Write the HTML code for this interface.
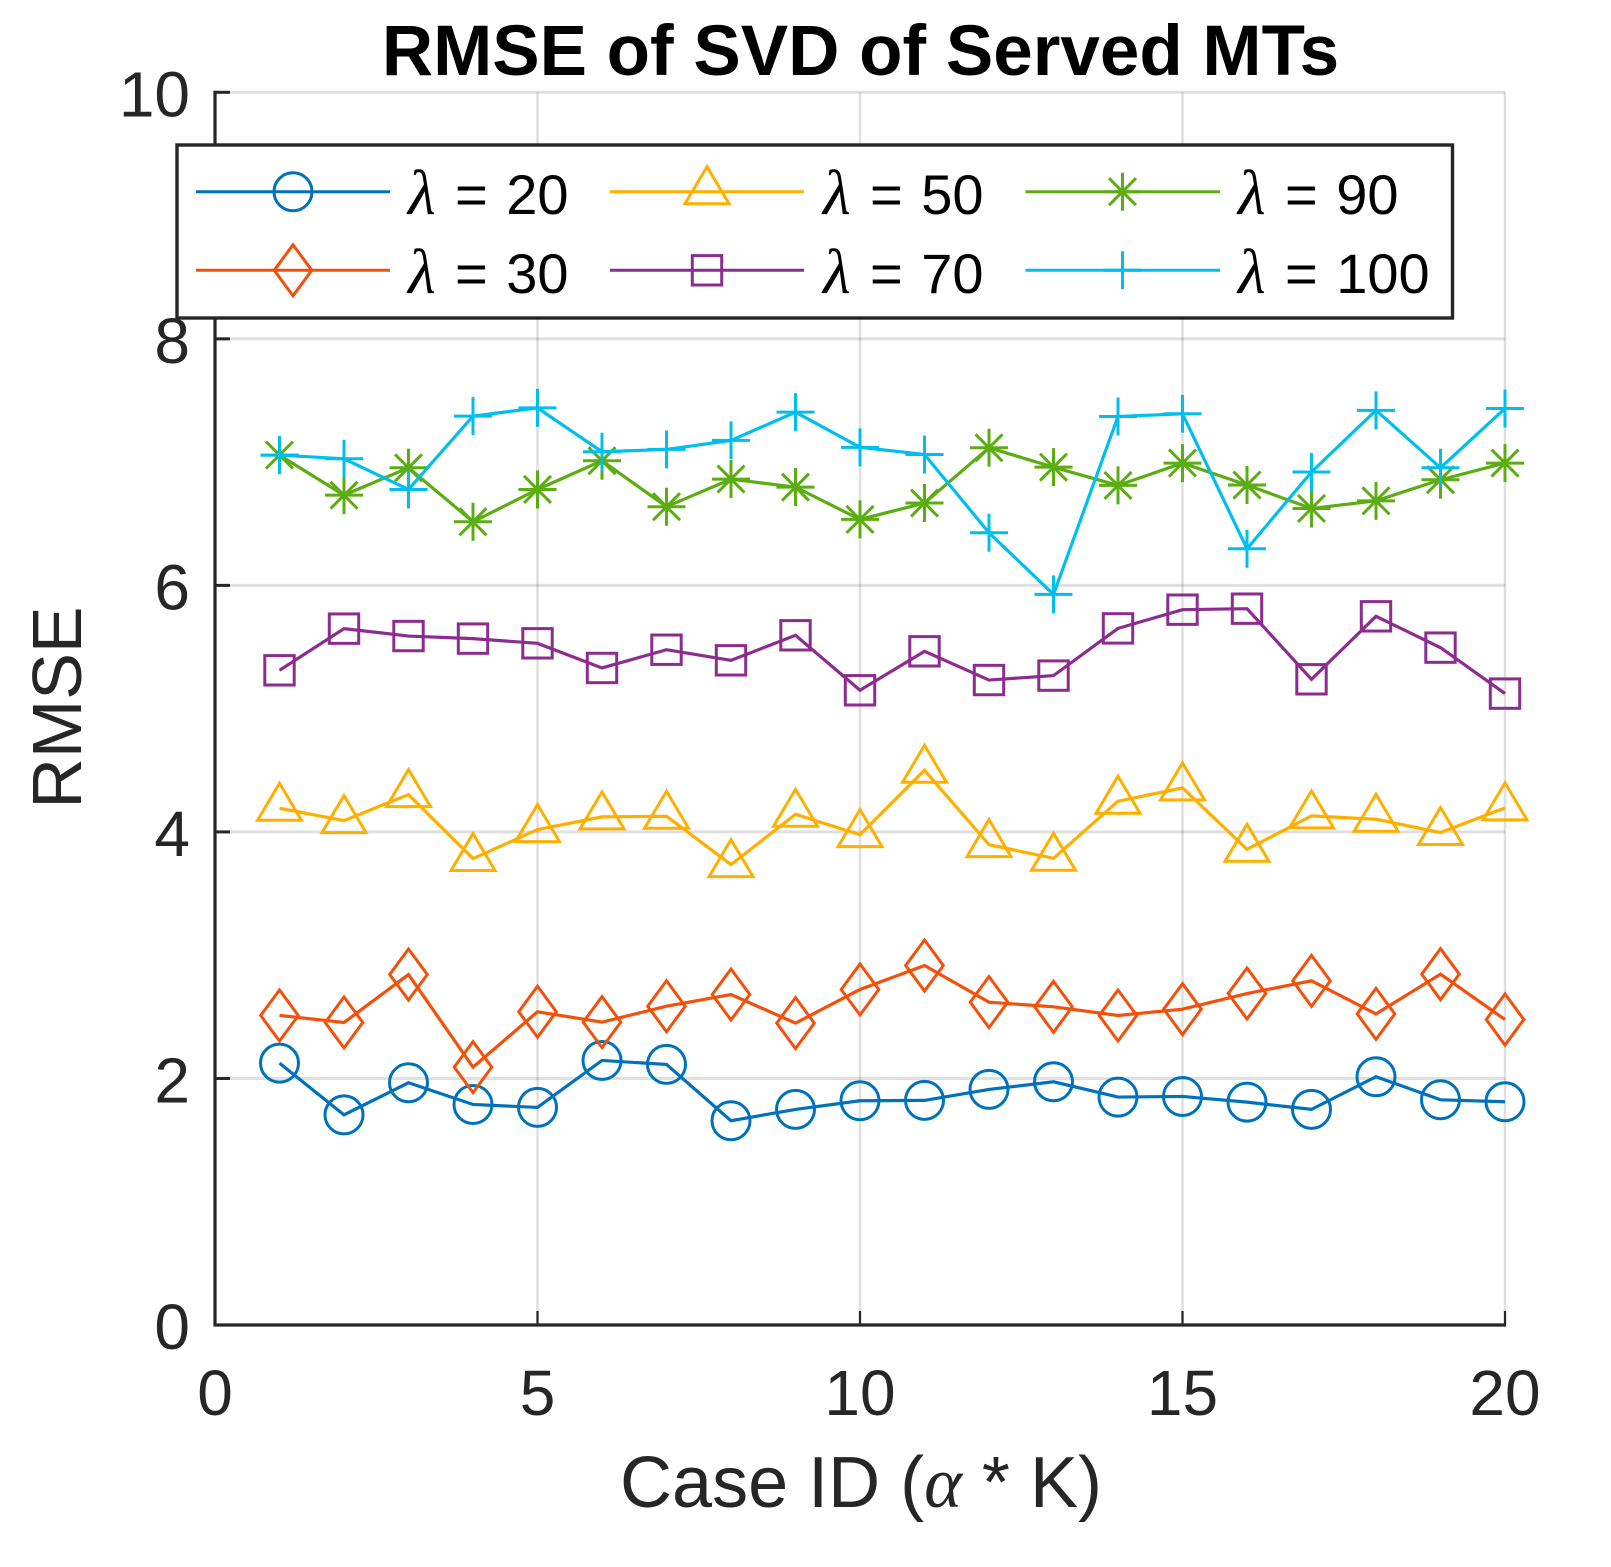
<!DOCTYPE html>
<html lang="en">
<head>
<meta charset="utf-8">
<title>RMSE of SVD of Served MTs</title>
<style>
html,body{margin:0;padding:0;background:#fff;}
svg{display:block;}
text{font-family:"Liberation Sans",Arial,sans-serif;}
.tick{font-size:64px;fill:#262626;}
.leg{font-size:56px;fill:#000;word-spacing:3px;}
.lam{font-family:"Liberation Serif",serif;font-size:64px;fill:#000;}
</style>
</head>
<body>
<svg id="chart" xmlns="http://www.w3.org/2000/svg" width="1611" height="1567" viewBox="0 0 1611 1567">
  <rect width="1611" height="1567" fill="#fff"/>
  <g id="grid"></g>
  <g id="axes"></g>
  <g id="series"></g>
  <text x="860.5" y="75" text-anchor="middle" font-size="71" font-weight="bold" fill="#000">RMSE of SVD of Served MTs</text>
  <text x="861" y="1507" text-anchor="middle" font-size="72" fill="#262626">Case ID (<tspan font-family="'Liberation Serif',serif" font-style="italic">α</tspan> * K)</text>
  <text transform="translate(81,707.5) rotate(-90)" text-anchor="middle" font-size="70" fill="#262626">RMSE</text>
  <g id="legend">
    <rect x="177" y="145" width="1275.5" height="173" fill="#fff" stroke="#262626" stroke-width="3.4"/>
    <g id="legend-keys"></g>
    <g><text class="lam" x="408" y="214" font-style="italic">λ</text><text class="leg" x="455" y="214">= 20</text></g>
    <g><text class="lam" x="408" y="293" font-style="italic">λ</text><text class="leg" x="455" y="293">= 30</text></g>
    <g><text class="lam" x="823" y="214" font-style="italic">λ</text><text class="leg" x="870" y="214">= 50</text></g>
    <g><text class="lam" x="823" y="293" font-style="italic">λ</text><text class="leg" x="870" y="293">= 70</text></g>
    <g><text class="lam" x="1238" y="214" font-style="italic">λ</text><text class="leg" x="1285" y="214">= 90</text></g>
    <g><text class="lam" x="1238" y="293" font-style="italic">λ</text><text class="leg" x="1285" y="293">= 100</text></g>
  </g>
</svg>
<script>
const caseIds = [1,2,3,4,5,6,7,8,9,10,11,12,13,14,15,16,17,18,19,20];
const xTicks = [0,5,10,15,20];
const yTicks = [0,2,4,6,8,10];
const lambda20 = [2.124,1.705,1.965,1.789,1.765,2.146,2.114,1.657,1.749,1.819,1.822,1.911,1.973,1.849,1.854,1.808,1.749,2.014,1.827,1.811];
const lambda30 = [2.511,2.454,2.843,2.092,2.541,2.457,2.586,2.681,2.449,2.722,2.916,2.619,2.581,2.511,2.562,2.689,2.792,2.524,2.846,2.478];
const lambda50 = [4.192,4.092,4.303,3.784,4.019,4.122,4.127,3.735,4.143,3.978,4.5,3.897,3.786,4.249,4.357,3.859,4.13,4.103,3.995,4.195];
const lambda70 = [5.311,5.649,5.589,5.568,5.53,5.33,5.478,5.392,5.595,5.149,5.465,5.232,5.268,5.651,5.803,5.811,5.238,5.749,5.495,5.122];
const lambda90 = [7.057,6.732,6.954,6.516,6.778,7.011,6.638,6.862,6.797,6.535,6.668,7.116,6.959,6.811,6.992,6.814,6.624,6.686,6.857,6.992];
const lambda100 = [7.057,7.027,6.778,7.373,7.44,7.084,7.103,7.176,7.405,7.12,7.062,6.427,5.927,7.37,7.392,6.297,6.92,7.42,6.954,7.435];

const NS = 'http://www.w3.org/2000/svg';
const plot = {x0:215, x1:1505, y0:1325, y1:92.3, xMin:0, xMax:20, yMin:0, yMax:10};
function xScale(v){ return plot.x0 + (v-plot.xMin)/(plot.xMax-plot.xMin)*(plot.x1-plot.x0); }
function yScale(v){ return plot.y0 - (v-plot.yMin)/(plot.yMax-plot.yMin)*(plot.y0-plot.y1); }
function make(tag, attrs, parent){
  const el = document.createElementNS(NS, tag);
  for (const k in attrs) el.setAttribute(k, attrs[k]);
  if (parent) parent.appendChild(el);
  return el;
}

const gridG = document.getElementById('grid');
const axesG = document.getElementById('axes');
const seriesG = document.getElementById('series');
const keysG = document.getElementById('legend-keys');

xTicks.forEach(function(t){
  if (t !== plot.xMin) {
    const g = make('line', {x1:xScale(t), x2:xScale(t), y1:plot.y1, y2:plot.y0, stroke:'#262626', 'stroke-opacity':0.15, 'stroke-width':2.5}, gridG);
    
    
    const m = make('line', {x1:xScale(t), x2:xScale(t), y1:plot.y0, y2:plot.y0-14, stroke:'#262626', 'stroke-width':2.2}, axesG);
    
    
  }
  const l = make('text', {x:xScale(t), y:1415, 'text-anchor':'middle', class:'tick'}, axesG);
  
  
  l.textContent = t;
});
yTicks.forEach(function(t){
  if (t !== plot.yMin) {
    const g = make('line', {x1:plot.x0, x2:plot.x1, y1:yScale(t), y2:yScale(t), stroke:'#262626', 'stroke-opacity':0.14, 'stroke-width':3}, gridG);
    
    
    const m = make('line', {x1:plot.x0, x2:plot.x0+15, y1:yScale(t), y2:yScale(t), stroke:'#262626', 'stroke-width':3}, axesG);
    
    
  }
  const l = make('text', {x:190, y:yScale(t)+24, 'text-anchor':'end', class:'tick'}, axesG);
  
  
  l.textContent = t;
});
const yAxisLine = make('line', {x1:plot.x0, x2:plot.x0, y1:plot.y1-1.5, y2:plot.y0+1.5, stroke:'#262626', 'stroke-width':3.2}, axesG);


const xAxisLine = make('line', {x1:plot.x0, x2:plot.x1+1, y1:plot.y0, y2:plot.y0, stroke:'#262626', 'stroke-width':3.2}, axesG);



function drawMarker(kind, cx, cy, color, parent){
  const s = {fill:'none', stroke:color, 'stroke-width':3};
  let el;
  if (kind === 'circle') {
    el = make('circle', Object.assign({cx:cx, cy:cy, r:19}, s), parent);
  } else if (kind === 'diamond') {
    el = make('path', Object.assign({d:'M'+cx+' '+(cy-25.5)+'L'+(cx+18.8)+' '+cy+'L'+cx+' '+(cy+25.5)+'L'+(cx-18.8)+' '+cy+'Z'}, s), parent);
  } else if (kind === 'triangle') {
    el = make('path', Object.assign({d:'M'+cx+' '+(cy-25)+'L'+(cx+22)+' '+(cy+12)+'L'+(cx-22)+' '+(cy+12)+'Z'}, s), parent);
  } else if (kind === 'square') {
    el = make('rect', Object.assign({x:cx-14.7, y:cy-14.7, width:29.4, height:29.4}, s), parent);
  } else if (kind === 'star') {
    el = make('path', Object.assign({d:'M'+(cx-19)+' '+cy+'H'+(cx+19)+'M'+cx+' '+(cy-19)+'V'+(cy+19)+'M'+(cx-13.5)+' '+(cy-13.5)+'L'+(cx+13.5)+' '+(cy+13.5)+'M'+(cx-13.5)+' '+(cy+13.5)+'L'+(cx+13.5)+' '+(cy-13.5)}, s), parent);
  } else {
    el = make('path', Object.assign({d:'M'+(cx-19)+' '+cy+'H'+(cx+19)+'M'+cx+' '+(cy-19)+'V'+(cy+19)}, s), parent);
  }
  return el;
}

function drawSeries(name, values, color, kind){
  const g = make('g', {}, seriesG);
  
  
  const pts = values.map(function(v,i){ return xScale(caseIds[i]).toFixed(2)+','+yScale(v).toFixed(2); }).join(' ');
  const line = make('polyline', {points:pts, fill:'none', stroke:color, 'stroke-width':3.2, 'stroke-linejoin':'miter'}, g);
  
  
  values.forEach(function(v,i){
    const m = drawMarker(kind, xScale(caseIds[i]), yScale(v), color, g);
    
    
  });
}

function drawKey(name, x1, x2, xm, y, color, kind){
  const line = make('line', {x1:x1, x2:x2, y1:y, y2:y, stroke:color, 'stroke-width':3}, keysG);
  
  
  const m = drawMarker(kind, xm, y, color, keysG);
  
  
}

const cBlue='#0072BC', cOrange='#F4500A', cYellow='#FFAF00', cPurple='#8B2C8E', cGreen='#5BAD12', cCyan='#00BEEE';
drawSeries('lambda-20', lambda20, cBlue, 'circle');
drawSeries('lambda-30', lambda30, cOrange, 'diamond');
drawSeries('lambda-50', lambda50, cYellow, 'triangle');
drawSeries('lambda-70', lambda70, cPurple, 'square');
drawSeries('lambda-90', lambda90, cGreen, 'star');
drawSeries('lambda-100', lambda100, cCyan, 'plus');

drawKey('lambda-20', 196, 390, 293, 191.7, cBlue, 'circle');
drawKey('lambda-30', 196, 390, 293, 270.3, cOrange, 'diamond');
drawKey('lambda-50', 610, 804, 707, 191.7, cYellow, 'triangle');
drawKey('lambda-70', 610, 804, 707, 270.3, cPurple, 'square');
drawKey('lambda-90', 1025.5, 1220, 1122.5, 191.7, cGreen, 'star');
drawKey('lambda-100', 1025.5, 1220, 1122.5, 270.3, cCyan, 'plus');
</script>
</body>
</html>
